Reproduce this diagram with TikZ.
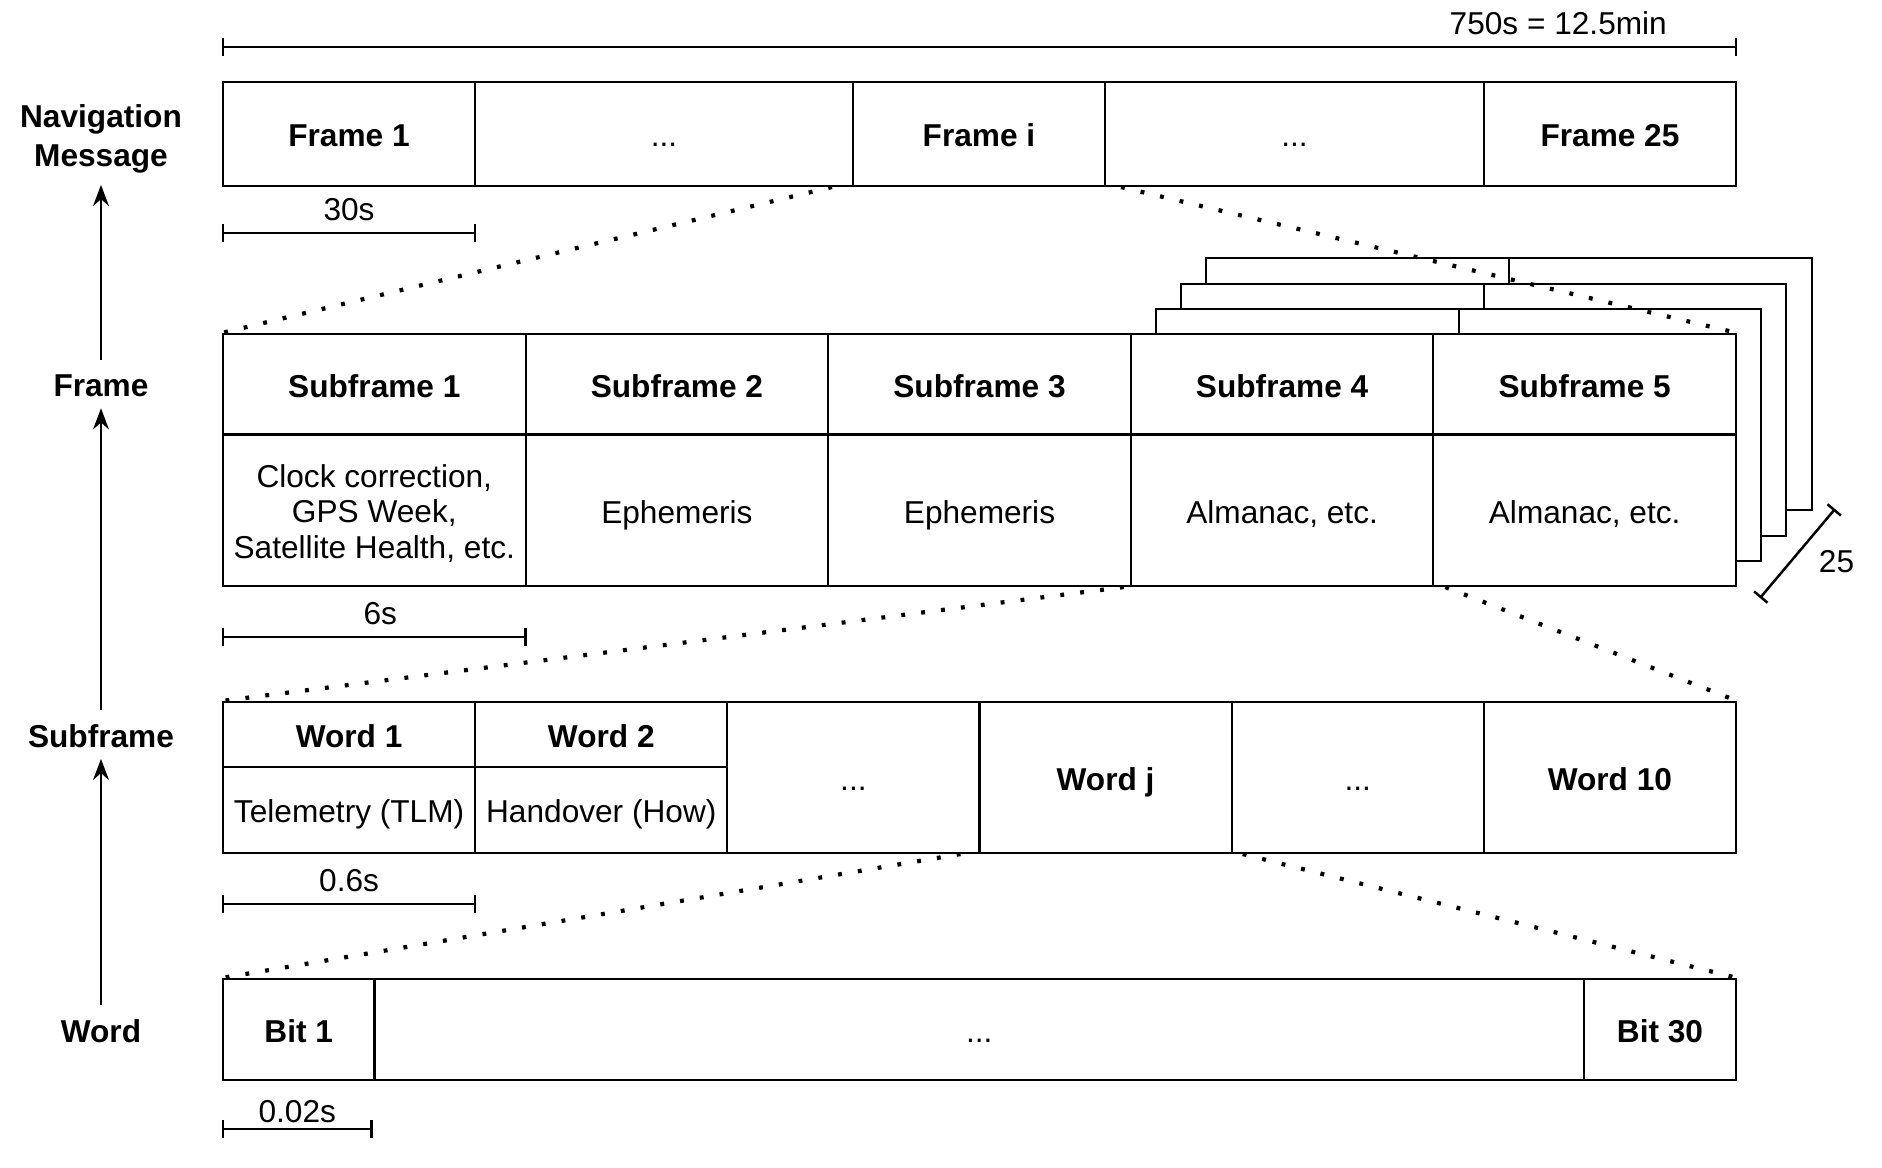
\documentclass[tikz,border=0pt]{standalone}
\usepackage{fontspec}
\setmainfont{Liberation Sans}
\usetikzlibrary{arrows.meta}

\newcommand{\more}{...}

\begin{document}
\fontsize{9}{11.3}\selectfont
\begin{tikzpicture}[x=0.1mm,y=-0.1mm]

%
% Styles
%
\tikzstyle{cell} = [rectangle,draw,line width=0.6pt,fill=white,inner sep=0pt,align=center,text height=7.3pt,text depth=0pt]
\tikzstyle{head} = [cell,font=\bfseries]
\tikzstyle{sheet} = [draw,line width=0.6pt,fill=white]
\tikzstyle{tier} = [font=\bfseries,align=center]
\tikzstyle{rise} = [-{Stealth[length=6pt,width=4.5pt]},line width=0.7pt,shorten <=1pt]
\tikzstyle{timebar} = [line width=0.7pt,{Bar[width=5pt]}-{Bar[width=5pt]}]
\tikzstyle{zoomline} = [line width=1.2pt,dash pattern=on 1.1pt off 4.6pt]

\useasboundingbox (0,0) rectangle (1882,1168);

% levels
\node[tier] (lnav)  at (101,139)  {Navigation\\Message};
\node[tier] (lfrm)  at (101,386)  {Frame};
\node[tier] (lsub)  at (101,736)  {Subframe};
\node[tier] (lword) at (101,1031) {Word};

\draw[rise] (lfrm.north)  -- (lnav.south);
\draw[rise] (lsub.north)  -- (lfrm.south);
\draw[rise] (lword.north) -- (lsub.south);

% navigation message
\node[head,minimum width=25.2mm,minimum height=10.4mm] (f1)  at (349,134)    {Frame 1};
\node[cell,minimum width=37.8mm,minimum height=10.4mm] (fa)  at (664,134)    {\more};
\node[head,minimum width=25.2mm,minimum height=10.4mm] (fi)  at (979,134)    {Frame i};
\node[cell,minimum width=37.9mm,minimum height=10.4mm] (fb)  at (1294.5,134) {\more};
\node[head,minimum width=25.2mm,minimum height=10.4mm] (f25) at (1610,134)   {Frame 25};

% frames behind
\draw[sheet] (1206.4,258.4) rectangle (1811.6,510.4);
\draw[line width=0.6pt] (1509,258.4) -- (1509,510.4);
\draw[sheet] (1181.2,283.6) rectangle (1786.4,535.6);
\draw[line width=0.6pt] (1483.8,283.6) -- (1483.8,535.6);
\draw[sheet] (1156,308.8) rectangle (1761.2,560.8);
\draw[line width=0.6pt] (1458.6,308.8) -- (1458.6,560.8);

% frame
\node[head,minimum width=30.26mm,minimum height=10.05mm] (s1) at (374.3,384.25)  {Subframe 1};
\node[head,minimum width=30.26mm,minimum height=10.05mm] (s2) at (676.9,384.25)  {Subframe 2};
\node[head,minimum width=30.26mm,minimum height=10.05mm] (s3) at (979.5,384.25)  {Subframe 3};
\node[head,minimum width=30.26mm,minimum height=10.05mm] (s4) at (1282.1,384.25) {Subframe 4};
\node[head,minimum width=30.26mm,minimum height=10.05mm] (s5) at (1584.7,384.25) {Subframe 5};
\node[cell,minimum width=30.26mm,minimum height=15.15mm,text height=27.6pt,font=\fontsize{9}{10.2}\selectfont] (c1) at (374.3,510.25)
  {Clock correction,\\GPS Week,\\Satellite Health, etc.};
\node[cell,minimum width=30.26mm,minimum height=15.15mm] (c2) at (676.9,510.25)  {Ephemeris};
\node[cell,minimum width=30.26mm,minimum height=15.15mm] (c3) at (979.5,510.25)  {Ephemeris};
\node[cell,minimum width=30.26mm,minimum height=15.15mm] (c4) at (1282.1,510.25) {Almanac, etc.};
\node[cell,minimum width=30.26mm,minimum height=15.15mm] (c5) at (1584.7,510.25) {Almanac, etc.};

% subframe
\node[head,minimum width=25.22mm,minimum height=6.5mm]  (w1)  at (349.1,734.5)  {Word 1};
\node[cell,minimum width=25.22mm,minimum height=8.6mm]  (t1)  at (349.1,810)    {Telemetry (TLM)};
\node[head,minimum width=25.22mm,minimum height=6.5mm]  (w2)  at (601.3,734.5)  {Word 2};
\node[cell,minimum width=25.22mm,minimum height=8.6mm]  (t2)  at (601.3,810)    {Handover (How)};
\node[cell,minimum width=25.22mm,minimum height=15.1mm] (wa)  at (853.4,777.5)  {\more};
\node[head,minimum width=25.22mm,minimum height=15.1mm] (wj)  at (1105.6,777.5) {Word j};
\node[cell,minimum width=25.22mm,minimum height=15.1mm] (wb)  at (1357.8,777.5) {\more};
\node[head,minimum width=25.22mm,minimum height=15.1mm] (w10) at (1609.9,777.5) {Word 10};

% word
\node[head,minimum width=15.15mm,minimum height=10.1mm]  (b1)  at (298.75,1029.5) {Bit 1};
\node[cell,minimum width=120.95mm,minimum height=10.1mm] (ba)  at (979.25,1029.5) {\more};
\node[head,minimum width=15.2mm,minimum height=10.1mm]   (b30) at (1660,1029.5)   {Bit 30};

% durations
\draw[timebar] ([yshift=3.4mm]f1.north west) -- ([yshift=3.4mm]f25.north east) node[pos=0.882,above] {750s = 12.5min};
\draw[timebar] ([yshift=-4.6mm]f1.south west) -- ([yshift=-4.6mm]f1.south east) node[midway,above] {30s};
\draw[timebar] ([yshift=-5mm]c1.south west) -- ([yshift=-5mm]c1.south east) node[midway,above,xshift=0.6mm] {6s};
\draw[timebar] ([yshift=-5mm]t1.south west) -- ([yshift=-5mm]t1.south east) node[midway,above] {0.6s};
\draw[timebar] ([yshift=-4.8mm]b1.south west) -- ([yshift=-4.8mm,xshift=-0.3mm]b1.south east) node[midway,above,inner sep=1.5pt,fill=white] {0.02s};

\coordinate (n25a) at (1835,509);
\coordinate (n25b) at (1760,598);
\draw[timebar] (n25a) -- (n25b) node[midway,xshift=3.9mm,yshift=-0.8mm] {25};

% zoom lines
\draw[zoomline] ([xshift=-2mm]fi.south west) -- (s1.north west);
\draw[zoomline] ([xshift=1.5mm]fi.south east) -- (s5.north east);
\draw[zoomline] ([xshift=-0.6mm]c4.south west) -- (w1.north west);
\draw[zoomline] ([xshift=1.3mm]c5.south west) -- (w10.north east);
\draw[zoomline] ([xshift=-1.8mm]wj.south west) -- (b1.north west);
\draw[zoomline] ([xshift=1mm]wj.south east) -- (b30.north east);

\end{tikzpicture}
\end{document}
